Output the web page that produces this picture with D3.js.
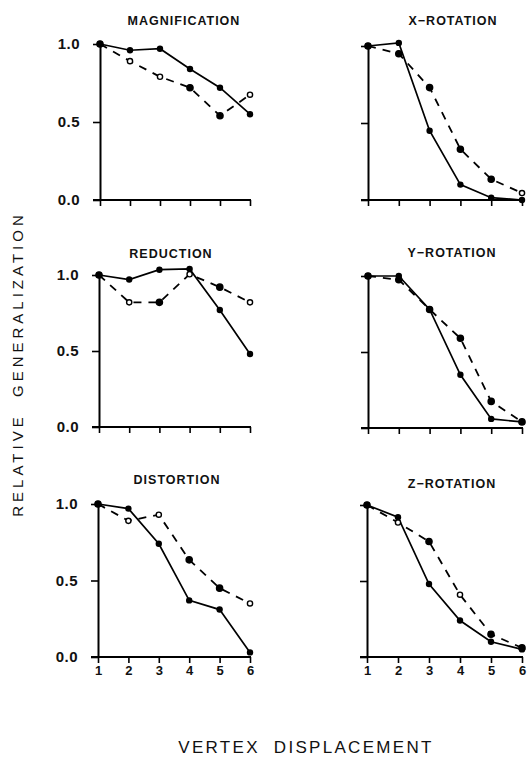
<!DOCTYPE html>
<html>
<head>
<meta charset="utf-8">
<script src="https://cdn.jsdelivr.net/npm/d3@7"></script>
<style>
  html, body { margin: 0; padding: 0; background: #fff; }
  svg { display: block; }
</style>
</head>
<body>
<svg id="chart" width="528" height="757"></svg>
<script>
// ---------- DATA ----------
const xValues = [1, 2, 3, 4, 5, 6];
const yTickValues = [0, 0.5, 1.0];
const yTickLabels = ["0.0", "0.5", "1.0"];
const xTickLabels = ["1", "2", "3", "4", "5", "6"];
const panelTitles = ["MAGNIFICATION", "X\u2212ROTATION", "REDUCTION", "Y\u2212ROTATION", "DISTORTION", "Z\u2212ROTATION"];

// solid-line series (all filled markers)
const solidMagnification = [1.00, 0.96, 0.97, 0.84, 0.72, 0.55];
const solidXRotation     = [1.00, 1.02, 0.45, 0.10, 0.015, 0.00];
const solidReduction     = [1.00, 0.97, 1.035, 1.04, 0.77, 0.48];
const solidYRotation     = [1.00, 1.00, 0.78, 0.35, 0.06, 0.04];
const solidDistortion    = [1.00, 0.97, 0.74, 0.37, 0.31, 0.03];
const solidZRotation     = [1.00, 0.92, 0.48, 0.24, 0.10, 0.05];

// dashed-line series
const dashedMagnification = [1.00, 0.89, 0.79, 0.72, 0.54, 0.675];
const dashedXRotation     = [1.00, 0.95, 0.73, 0.33, 0.135, 0.045];
const dashedReduction     = [1.00, 0.82, 0.82, 1.005, 0.92, 0.82];
const dashedYRotation     = [1.00, 0.975, 0.78, 0.59, 0.175, 0.04];
const dashedDistortion    = [1.00, 0.89, 0.93, 0.635, 0.45, 0.35];
const dashedZRotation     = [1.00, 0.885, 0.76, 0.41, 0.15, 0.06];

// marker style of dashed series: 1 = filled, 0 = open
const dashedFilledMagnification = [1, 0, 0, 1, 1, 0];
const dashedFilledXRotation     = [1, 1, 1, 1, 1, 0];
const dashedFilledReduction     = [1, 0, 1, 0, 1, 0];
const dashedFilledYRotation     = [1, 1, 1, 1, 1, 1];
const dashedFilledDistortion    = [1, 0, 0, 1, 1, 0];
const dashedFilledZRotation     = [1, 0, 1, 0, 1, 1];

const solidSeries = [solidMagnification, solidXRotation, solidReduction, solidYRotation, solidDistortion, solidZRotation];
const dashedSeries = [dashedMagnification, dashedXRotation, dashedReduction, dashedYRotation, dashedDistortion, dashedZRotation];
const dashedFilled = [dashedFilledMagnification, dashedFilledXRotation, dashedFilledReduction, dashedFilledYRotation, dashedFilledDistortion, dashedFilledZRotation];

// ---------- LAYOUT ----------
const layout = [
  { x0: 100, x1: 250, yTop: 44,  yBot: 200, titleX: 184, titleY: 25,  yLabels: true,  xLabels: false },
  { x0: 368, x1: 522, yTop: 46,  yBot: 200, titleX: 453, titleY: 25,  yLabels: false, xLabels: false },
  { x0: 99,  x1: 250, yTop: 275, yBot: 427, titleX: 171, titleY: 258, yLabels: true,  xLabels: false },
  { x0: 368, x1: 522, yTop: 276, yBot: 428, titleX: 452, titleY: 257, yLabels: false, xLabels: false },
  { x0: 98,  x1: 250, yTop: 504, yBot: 657, titleX: 177, titleY: 484, yLabels: true,  xLabels: true },
  { x0: 367, x1: 522, yTop: 505, yBot: 657, titleX: 452, titleY: 488, yLabels: false, xLabels: true }
];

const svg = d3.select("#chart");
const FONT = "'Liberation Sans', Arial, Helvetica, sans-serif";

layout.forEach((L, i) => {
  const x = d3.scaleLinear().domain([1, 6]).range([L.x0, L.x1]);
  const y = d3.scaleLinear().domain([0, 1]).range([L.yBot, L.yTop]);
  const g = svg.append("g");

  // y axis
  const yAxis = d3.axisLeft(y).tickValues(yTickValues)
    .tickFormat((d, k) => L.yLabels ? yTickLabels[k] : "")
    .tickSize(7).tickSizeOuter(0).tickPadding(13);
  const ya = g.append("g").attr("transform", `translate(${L.x0},0)`).call(yAxis);
  ya.select(".domain").attr("stroke", "#000").attr("stroke-width", 2);
  ya.selectAll(".tick line").attr("stroke", "#000").attr("stroke-width", 1.6);
  ya.selectAll(".tick text").attr("font-family", FONT).attr("font-size", 15)
    .attr("font-weight", "bold").attr("letter-spacing", 0.5).attr("fill", "#111");

  // x axis
  const xAxis = d3.axisBottom(x).tickValues(xValues)
    .tickFormat((d, k) => L.xLabels ? xTickLabels[k] : "")
    .tickSize(6).tickSizeOuter(0).tickPadding(3);
  const xa = g.append("g").attr("transform", `translate(0,${L.yBot})`).call(xAxis);
  xa.select(".domain").attr("stroke", "#000").attr("stroke-width", 2.2)
    .attr("d", `M${L.x0 - 7},0H${L.x1 + 1}`);
  xa.selectAll(".tick line").attr("stroke", "#000").attr("stroke-width", 1.6);
  xa.selectAll(".tick text").attr("font-family", FONT).attr("font-size", 13)
    .attr("font-weight", "bold").attr("fill", "#111");

  // title
  g.append("text").attr("x", L.titleX).attr("y", L.titleY)
    .attr("text-anchor", "middle").attr("font-family", FONT)
    .attr("font-size", 12.5).attr("font-weight", "bold").attr("letter-spacing", 1)
    .attr("fill", "#111")
    .text(panelTitles[i]);

  const line = d3.line().x((d, k) => x(xValues[k])).y(d => y(d));

  // dashed series
  g.append("path").datum(dashedSeries[i]).attr("d", line)
    .attr("fill", "none").attr("stroke", "#000").attr("stroke-width", 1.8)
    .attr("stroke-dasharray", "8,7");
  // solid series
  g.append("path").datum(solidSeries[i]).attr("d", line)
    .attr("fill", "none").attr("stroke", "#000").attr("stroke-width", 1.7);

  // dashed markers
  g.selectAll(".dm").data(dashedSeries[i]).enter().append("circle")
    .attr("cx", (d, k) => x(xValues[k])).attr("cy", d => y(d))
    .attr("r", (d, k) => dashedFilled[i][k] ? 3.1 : 2.6)
    .attr("fill", (d, k) => dashedFilled[i][k] ? "#000" : "#fff")
    .attr("stroke", "#000").attr("stroke-width", 1.4);
  // solid markers
  g.selectAll(".sm").data(solidSeries[i]).enter().append("circle")
    .attr("cx", (d, k) => x(xValues[k])).attr("cy", d => y(d))
    .attr("r", 3.2).attr("fill", "#000");
});

// axis titles
svg.append("text")
  .attr("transform", "translate(23,364) rotate(-90)")
  .attr("text-anchor", "middle").attr("font-family", FONT)
  .attr("font-size", 15).attr("letter-spacing", 4).attr("fill", "#111")
  .style("white-space", "pre")
  .text("RELATIVE  GENERALIZATION");

svg.append("text")
  .attr("x", 306).attr("y", 753)
  .attr("text-anchor", "middle").attr("font-family", FONT)
  .attr("font-size", 17).attr("letter-spacing", 2.3).attr("fill", "#111")
  .style("white-space", "pre")
  .text("VERTEX  DISPLACEMENT");
</script>
</body>
</html>
